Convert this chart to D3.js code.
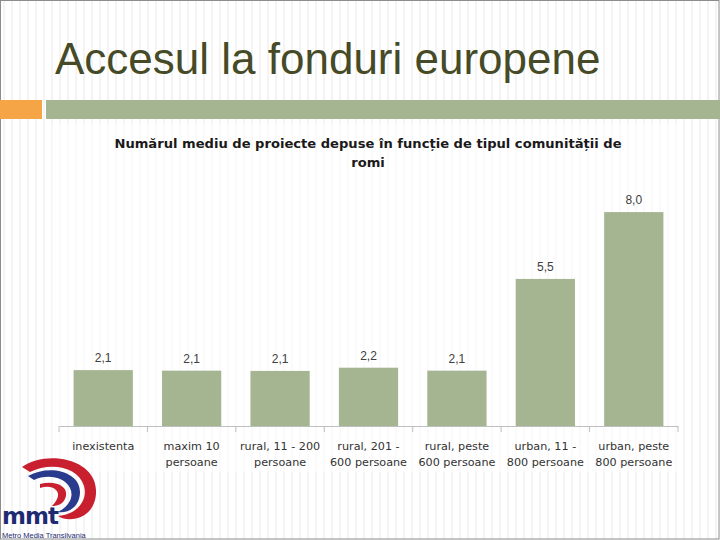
<!DOCTYPE html>
<html>
<head>
<meta charset="utf-8">
<script src="https://cdn.jsdelivr.net/npm/d3@7"></script>
<style>
  body { margin: 0; background: #fff; }
  svg { display: block; }
</style>
</head>
<body>
<div class="chart"></div>
<script>
// data
var categories = ["inexistenta", "maxim 10\npersoane", "rural, 11 - 200\npersoane",
  "rural, 201 -\n600 persoane", "rural, peste\n600 persoane",
  "urban, 11 -\n800 persoane", "urban, peste\n800 persoane"];
var values = [2.09, 2.07, 2.06, 2.18, 2.07, 5.5, 8.0];
var slideTitle = "Accesul la fonduri europene";
var chartTitle = ["Numărul mediu de proiecte depuse în funcție de tipul comunității de", "romi"];

var svgWidth = 720, svgHeight = 540;

var svg = d3.select(".chart")
  .append("svg")
  .attr("width", svgWidth)
  .attr("height", svgHeight);

// slide background with faint vertical stripes
svg.append("rect")
  .attr("width", svgWidth)
  .attr("height", svgHeight)
  .attr("fill", "#fff");

svg.append("g")
  .selectAll("line")
  .data(d3.range(4, svgWidth, 8))
  .enter()
  .append("line")
  .attr("x1", d => d)
  .attr("x2", d => d)
  .attr("y1", 0)
  .attr("y2", svgHeight)
  .attr("stroke", "#f0f0f0")
  .attr("stroke-width", 1.5);

// slide frame
svg.append("rect")
  .attr("x", 0.5).attr("y", 0.5)
  .attr("width", svgWidth - 1.5)
  .attr("height", svgHeight - 1.5)
  .attr("fill", "none")
  .attr("stroke", "#8c8c8c");

// title
svg.append("text")
  .attr("x", 55)
  .attr("y", 74)
  .attr("font-family", "Liberation Sans, Arial, sans-serif")
  .attr("font-size", 44)
  .attr("fill", "#464a26")
  .text(slideTitle);

// accent bars under the title
svg.append("rect")
  .attr("x", 0).attr("y", 100)
  .attr("width", 42).attr("height", 19)
  .attr("fill", "#f5a546");
svg.append("rect")
  .attr("x", 46).attr("y", 100)
  .attr("width", svgWidth - 46).attr("height", 19)
  .attr("fill", "#a5b592");

// chart area (faded stripes)
svg.append("rect")
  .attr("x", 52).attr("y", 124)
  .attr("width", 630).attr("height", 348)
  .attr("fill", "#fff")
  .attr("opacity", 0.55);

var margin = { top: 180, bottom: 114, left: 59, right: 42 };
var width = svgWidth - margin.left - margin.right;
var height = svgHeight - margin.top - margin.bottom;

var chartGroup = svg.append("g")
  .attr("transform", `translate(${margin.left}, ${margin.top})`);

// chart title
svg.append("text")
  .attr("x", 368)
  .attr("y", 148)
  .attr("text-anchor", "middle")
  .attr("font-family", "DejaVu Sans, sans-serif")
  .attr("font-weight", "bold")
  .attr("font-size", 13.1)
  .attr("fill", "#1a1a1a")
  .selectAll("tspan")
  .data(chartTitle)
  .enter()
  .append("tspan")
  .attr("x", 368)
  .attr("dy", (d, i) => i ? 19 : 0)
  .text(d => d);

// scales
var xScale = d3.scaleBand()
  .domain(categories)
  .range([0, width])
  .paddingInner(0.33)
  .paddingOuter(0.165);

var yScale = d3.scaleLinear()
  .domain([0, 9.2])
  .range([height, 0]);

// bars
chartGroup.selectAll(".bar")
  .data(values)
  .enter()
  .append("rect")
  .attr("class", "bar")
  .attr("x", (d, i) => xScale(categories[i]))
  .attr("y", d => yScale(d))
  .attr("width", xScale.bandwidth())
  .attr("height", d => height - yScale(d))
  .attr("fill", "#a5b592");

// value labels
var fmt = d3.format(".1f");
chartGroup.selectAll(".val")
  .data(values)
  .enter()
  .append("text")
  .attr("class", "val")
  .attr("x", (d, i) => xScale(categories[i]) + xScale.bandwidth() / 2)
  .attr("y", d => yScale(d) - 8)
  .attr("text-anchor", "middle")
  .attr("font-family", "Liberation Sans, Arial, sans-serif")
  .attr("font-size", 12)
  .attr("fill", "#404040")
  .text(d => fmt(d).replace(".", ","));

// x axis
var xAxis = d3.axisBottom(xScale).tickSize(0).tickFormat("");
var axisG = chartGroup.append("g")
  .attr("transform", `translate(0, ${height})`)
  .call(xAxis);
axisG.select(".domain").attr("stroke", "#bfbfbf");

// boundary ticks between categories
var step = xScale.step();
var bounds = d3.range(categories.length + 1).map(i => xScale(categories[0]) - xScale.paddingOuter() * step + i * step);
axisG.selectAll(".bound")
  .data(bounds)
  .enter()
  .append("line")
  .attr("class", "bound")
  .attr("x1", d => d).attr("x2", d => d)
  .attr("y1", 0).attr("y2", 6)
  .attr("stroke", "#bfbfbf");

// category labels
var labels = axisG.selectAll(".cat")
  .data(categories)
  .enter()
  .append("text")
  .attr("class", "cat")
  .attr("text-anchor", "middle")
  .attr("font-family", "DejaVu Sans, sans-serif")
  .attr("font-size", 11.2)
  .attr("fill", "#333")
  .attr("transform", d => `translate(${xScale(d) + xScale.bandwidth() / 2}, 24)`);

labels.selectAll("tspan")
  .data(d => d.split("\n"))
  .enter()
  .append("tspan")
  .attr("x", 0)
  .attr("dy", (d, i) => i ? 16 : 0)
  .text(d => d);

// mmt logo
var logo = svg.append("g");
logo.append("path")
  .attr("d", "M22,467 C45,450 95,458 96,490 C97,518 70,524 58,516 C78,514 88,500 84,486 C78,466 50,462 30,472 Z")
  .attr("fill", "#c8202f");
logo.append("path")
  .attr("d", "M28,476 C50,464 80,472 80,492 C80,508 66,514 58,512 C70,506 74,496 70,488 C64,476 46,474 34,480 Z")
  .attr("fill", "#2a3a8c");
logo.append("path")
  .attr("d", "M40,484 C55,480 68,486 66,496 C64,504 58,506 52,506 C58,500 60,494 56,490 C52,486 46,486 40,488 Z")
  .attr("fill", "#c8202f");
logo.append("text")
  .attr("x", 2)
  .attr("y", 524)
  .attr("font-family", "DejaVu Sans, sans-serif")
  .attr("font-weight", "bold")
  .attr("font-size", 23)
  .attr("letter-spacing", -1)
  .attr("fill", "#1e2b73")
  .text("mmt");
logo.append("text")
  .attr("x", 2)
  .attr("y", 538)
  .attr("font-family", "Liberation Sans, Arial, sans-serif")
  .attr("font-size", 7.5)
  .attr("fill", "#1e2b73")
  .text("Metro Media Transilvania");
</script>
</body>
</html>
